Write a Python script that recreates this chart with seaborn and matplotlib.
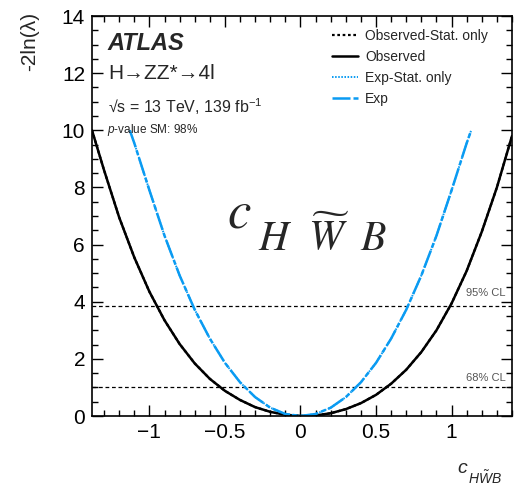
import matplotlib
matplotlib.use("Agg")
import matplotlib.pyplot as plt
import seaborn as sns
import pandas as pd
from matplotlib.ticker import MultipleLocator

# ---- data ----
obs_x = [-1.38, -1.3, -1.2, -1.1, -1.0, -0.9, -0.8, -0.7, -0.6, -0.5, -0.4, -0.3, -0.2, -0.1,
         0.0, 0.02, 0.1, 0.2, 0.3, 0.4, 0.5, 0.6, 0.7, 0.8, 0.9, 1.0, 1.1, 1.2, 1.3, 1.4]
obs_y = [10.0, 8.6, 6.95, 5.55, 4.35, 3.35, 2.52, 1.84, 1.30, 0.88, 0.56, 0.31, 0.145, 0.042,
         0.003, 0.0, 0.019, 0.096, 0.24, 0.45, 0.74, 1.13, 1.62, 2.24, 3.0, 3.94, 5.08, 6.45, 8.0, 9.8]
obs_stat_x = list(obs_x)
obs_stat_y = [10.0, 8.6, 6.95, 5.55, 4.35, 3.35, 2.52, 1.84, 1.30, 0.88, 0.56, 0.31, 0.145, 0.042,
              0.003, 0.0, 0.019, 0.096, 0.24, 0.45, 0.74, 1.13, 1.62, 2.24, 3.0, 3.94, 5.08, 6.45, 8.0, 9.8]
exp_x = [-1.13, -1.1, -1.0, -0.9, -0.8, -0.7, -0.6, -0.5, -0.4, -0.3, -0.2, -0.1, 0.0,
         0.1, 0.2, 0.3, 0.4, 0.5, 0.6, 0.7, 0.8, 0.9, 1.0, 1.1, 1.13]
exp_y = [10.0, 9.55, 7.9, 6.31, 4.92, 3.72, 2.71, 1.86, 1.18, 0.66, 0.29, 0.07, 0.0,
         0.07, 0.29, 0.66, 1.18, 1.86, 2.71, 3.72, 4.92, 6.31, 7.9, 9.55, 10.0]
exp_stat_x = list(exp_x)
exp_stat_y = [10.0, 9.55, 7.9, 6.31, 4.92, 3.72, 2.71, 1.86, 1.18, 0.66, 0.29, 0.07, 0.0,
              0.07, 0.29, 0.66, 1.18, 1.86, 2.71, 3.72, 4.92, 6.31, 7.9, 9.55, 10.0]
cl_levels = [1.0, 3.84]
cl_labels = ["68% CL", "95% CL"]
labels = ["Observed-Stat. only", "Observed", "Exp-Stat. only", "Exp"]

BLUE = "#0a9bf2"

sns.set_theme(style="ticks")
plt.rcParams["font.family"] = ["Liberation Sans", "DejaVu Sans"]
plt.rcParams["mathtext.fontset"] = "custom"
plt.rcParams["mathtext.rm"] = "Liberation Sans"
plt.rcParams["mathtext.it"] = "Liberation Sans:italic"
plt.rcParams["mathtext.bf"] = "Liberation Sans:bold"

W, H = 514, 486
fig = plt.figure(figsize=(W / 100, H / 100), dpi=100)
ax = fig.add_axes([92 / W, 1 - 416 / H, 420 / W, 400 / H])

df_os = pd.DataFrame({"x": obs_stat_x, "y": obs_stat_y})
df_o = pd.DataFrame({"x": obs_x, "y": obs_y})
df_es = pd.DataFrame({"x": exp_stat_x, "y": exp_stat_y})
df_e = pd.DataFrame({"x": exp_x, "y": exp_y})

sns.lineplot(data=df_os, x="x", y="y", ax=ax, color="black", lw=1.6,
             linestyle=(0, (1.2, 1.2)), label=labels[0], sort=False, estimator=None)
sns.lineplot(data=df_o, x="x", y="y", ax=ax, color="black", lw=1.8,
             linestyle="-", label=labels[1], sort=False, estimator=None)
sns.lineplot(data=df_es, x="x", y="y", ax=ax, color=BLUE, lw=1.4,
             linestyle=(0, (0.8, 0.8)), label=labels[2], sort=False, estimator=None)
sns.lineplot(data=df_e, x="x", y="y", ax=ax, color=BLUE, lw=1.8,
             linestyle=(0, (7.2, 1.2, 2.0, 1.2)), label=labels[3], sort=False, estimator=None)

for lev, lab, off in zip(cl_levels, cl_labels, [0.15, 0.3]):
    ax.axhline(lev, color="black", lw=0.9, linestyle=(0, (3, 2.2)), zorder=1)
    ax.text(0.985, lev + off, lab, transform=ax.get_yaxis_transform(), ha="right",
            va="bottom", fontsize=8, color="#555555")

ax.set_xlim(-1.38, 1.40)
ax.set_ylim(0, 14)
ax.xaxis.set_major_locator(MultipleLocator(0.5))
ax.xaxis.set_minor_locator(MultipleLocator(0.1))
ax.yaxis.set_major_locator(MultipleLocator(2))
ax.yaxis.set_minor_locator(MultipleLocator(0.5))
ax.set_xticks([-1, -0.5, 0, 0.5, 1])
ax.set_xticklabels(["\u22121", "\u22120.5", "0", "0.5", "1"])
ax.tick_params(which="both", direction="in", top=True, right=True, width=1.0, colors="black")
ax.tick_params(which="major", length=8, labelsize=15, pad=5)
ax.tick_params(which="minor", length=4)
for s in ax.spines.values():
    s.set_linewidth(1.2)
    s.set_color("black")
ax.set_xlabel("")
ax.set_ylabel("")

# y label
fig.text(30 / W, 1 - 12 / H, "-2ln(\u03bb)", rotation=90, ha="center", va="top", fontsize=15)
# x label
fig.text(457 / W, 1 - 473 / H, "c", ha="left", va="baseline", fontsize=14, style="italic")
fig.text(468 / W, 1 - 484 / H, r"$H\tilde{W}B$", ha="left", va="baseline", fontsize=10)

# annotations
tx = ax.transAxes
ax.text(0.038, 0.96, "ATLAS", transform=tx, fontsize=17, weight="bold", style="italic",
        ha="left", va="top")
ax.text(0.038, 0.88, "H\u2192ZZ*\u21924l", transform=tx, fontsize=15, ha="left", va="top")
ax.text(0.038, 0.80, "\u221as = 13 TeV, 139 fb$^{-1}$", transform=tx, fontsize=11.5,
        ha="left", va="top")
ax.text(0.036, 0.735, r"$p$-value SM: 98%", transform=tx, fontsize=8.5, ha="left", va="top")

# big label in serif italic
fig.text(227 / W, 1 - 228 / H, r"$c$", fontsize=38, ha="left", va="baseline", math_fontfamily="stix")
fig.text(258 / W, 1 - 250 / H, r"$H$", fontsize=30, ha="left", va="baseline", math_fontfamily="stix")
fig.text(308 / W, 1 - 250 / H, r"$\widetilde{W}$", fontsize=30, ha="left", va="baseline", math_fontfamily="stix")
fig.text(360 / W, 1 - 250 / H, r"$B$", fontsize=30, ha="left", va="baseline", math_fontfamily="stix")

leg = ax.legend(loc="upper left", bbox_to_anchor=(0.571, 0.967), frameon=False, fontsize=10,
                handlelength=1.85, handletextpad=0.55, labelspacing=0.5, borderpad=0,
                borderaxespad=0)

fig.savefig("out.png", dpi=100)
